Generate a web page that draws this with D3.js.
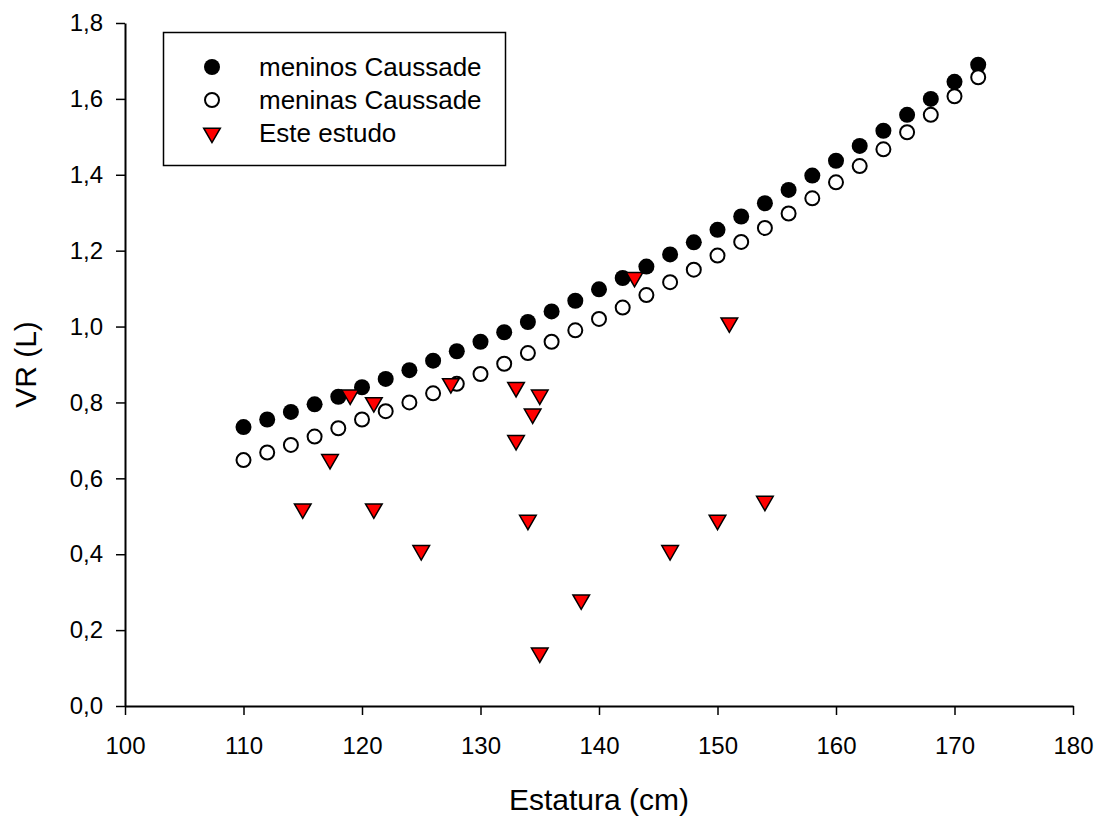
<!DOCTYPE html>
<html>
<head>
<meta charset="utf-8">
<script src="https://cdn.jsdelivr.net/npm/d3@7"></script>
<style>
  body { margin: 0; background: #fff; }
  text { font-family: "Liberation Sans", Arial, sans-serif; fill: #000; }
</style>
</head>
<body>
<div id="chart"></div>
<script>
// estatura (cm) for the Caussade reference curves
var heights = [110, 112, 114, 116, 118, 120, 122, 124, 126, 128, 130, 132, 134, 136, 138, 140,
               142, 144, 146, 148, 150, 152, 154, 156, 158, 160, 162, 164, 166, 168, 170, 172];
var boysVR = [0.735, 0.755, 0.775, 0.795, 0.815, 0.84, 0.862, 0.885, 0.91, 0.935, 0.96, 0.985,
              1.012, 1.04, 1.068, 1.098, 1.128, 1.158, 1.19, 1.222, 1.255, 1.29, 1.325, 1.36,
              1.398, 1.437, 1.476, 1.516, 1.558, 1.6, 1.645, 1.69];
var girlsVR = [0.648, 0.668, 0.688, 0.71, 0.732, 0.755, 0.777, 0.80, 0.824, 0.849, 0.875, 0.902,
               0.93, 0.96, 0.99, 1.02, 1.05, 1.083, 1.117, 1.15, 1.187, 1.223, 1.26, 1.298,
               1.338, 1.38, 1.423, 1.467, 1.512, 1.558, 1.607, 1.657];
// este estudo
var studyHeight = [115, 117.3, 119, 121, 121, 125, 127.5, 133, 133, 134, 134.4, 135, 135, 138.5, 143, 146, 150, 151, 154];
var studyVR     = [0.52, 0.65, 0.82, 0.80, 0.52, 0.41, 0.85, 0.84, 0.70, 0.49, 0.77, 0.82, 0.14, 0.28, 1.13, 0.41, 0.49, 1.01, 0.54];

var xTicks = [100, 110, 120, 130, 140, 150, 160, 170, 180];
var yTicks = [0, 0.2, 0.4, 0.6, 0.8, 1.0, 1.2, 1.4, 1.6, 1.8];
var legendLabels = ["meninos Caussade", "meninas Caussade", "Este estudo"];

var width = 1100, height = 820;
var margin = { top: 23, right: 27, bottom: 114, left: 125 };

var svg = d3.select("#chart").append("svg")
    .attr("width", width)
    .attr("height", height);

var x = d3.scaleLinear().domain([100, 180]).range([margin.left, width - margin.right]);
var y = d3.scaleLinear().domain([0, 1.8]).range([height - margin.bottom, margin.top]);

var fmt = function (d) { return d3.format(".1f")(d).replace(".", ","); };

// axes
var xAxis = svg.append("g")
    .attr("transform", "translate(0," + y(0) + ")")
    .call(d3.axisBottom(x).tickValues(xTicks).tickSize(9).tickPadding(22).tickSizeOuter(0));
var yAxis = svg.append("g")
    .attr("transform", "translate(" + x(100) + ",0)")
    .call(d3.axisLeft(y).tickValues(yTicks).tickFormat(fmt).tickSize(9).tickPadding(13).tickSizeOuter(0));

[xAxis, yAxis].forEach(function (g) {
    g.select(".domain").attr("stroke", "#000").attr("stroke-width", 2);
    g.selectAll(".tick line").attr("stroke", "#000").attr("stroke-width", 1.5);
    g.selectAll(".tick text").style("font-size", "24px").attr("fill", "#000")
        .style("font-family", "'Liberation Sans', Arial, sans-serif");
});

// titles
svg.append("text")
    .attr("x", (x(100) + x(180)) / 2)
    .attr("y", 810)
    .attr("text-anchor", "middle")
    .style("font-size", "30px")
    .text("Estatura (cm)");

svg.append("text")
    .attr("transform", "translate(36," + ((y(0) + y(1.8)) / 2) + ") rotate(-90)")
    .attr("text-anchor", "middle")
    .style("font-size", "30px")
    .text("VR (L)");

var triangle = d3.symbol().type(d3.symbolTriangle).size(120);

// meninos (filled)
svg.append("g").selectAll("circle")
    .data(heights)
    .join("circle")
    .attr("cx", function (d) { return x(d); })
    .attr("cy", function (d, i) { return y(boysVR[i]); })
    .attr("r", 8)
    .attr("fill", "#000");

// meninas (open)
svg.append("g").selectAll("circle")
    .data(heights)
    .join("circle")
    .attr("cx", function (d) { return x(d); })
    .attr("cy", function (d, i) { return y(girlsVR[i]); })
    .attr("r", 7)
    .attr("fill", "#fff")
    .attr("stroke", "#000")
    .attr("stroke-width", 2);

// este estudo (red down-triangles)
svg.append("g").selectAll("path")
    .data(studyHeight)
    .join("path")
    .attr("d", triangle)
    .attr("transform", function (d, i) { return "translate(" + x(d) + "," + y(studyVR[i]) + ") rotate(180)"; })
    .attr("fill", "#ff0000")
    .attr("stroke", "#000")
    .attr("stroke-width", 1.5);

// legend
var legend = svg.append("g");
legend.append("rect")
    .attr("x", 163.5).attr("y", 32.5)
    .attr("width", 342).attr("height", 133)
    .attr("fill", "#fff")
    .attr("stroke", "#000")
    .attr("stroke-width", 1.5);

var rowY = [67, 100, 133];
legend.append("circle").attr("cx", 212).attr("cy", rowY[0]).attr("r", 8).attr("fill", "#000");
legend.append("circle").attr("cx", 212).attr("cy", rowY[1]).attr("r", 7)
    .attr("fill", "#fff").attr("stroke", "#000").attr("stroke-width", 2);
legend.append("path").attr("d", triangle)
    .attr("transform", "translate(212," + rowY[2] + ") rotate(180)")
    .attr("fill", "#ff0000").attr("stroke", "#000").attr("stroke-width", 1.5);

legend.selectAll("text.lbl")
    .data(legendLabels)
    .join("text")
    .attr("class", "lbl")
    .attr("x", 259)
    .attr("y", function (d, i) { return rowY[i] + 9; })
    .style("font-size", "26px")
    .text(function (d) { return d; });
</script>
</body>
</html>
